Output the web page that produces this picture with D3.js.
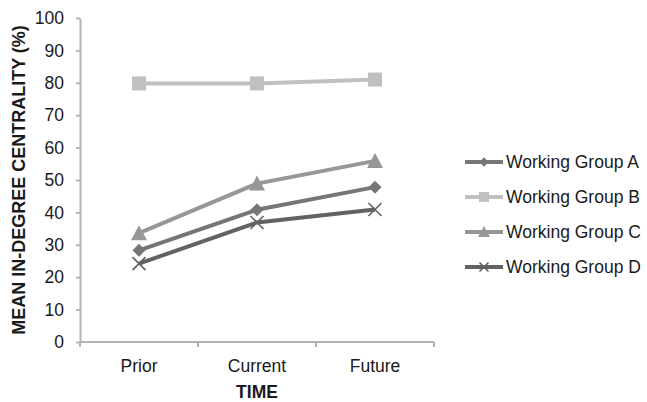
<!DOCTYPE html>
<html>
<head>
<meta charset="utf-8">
<script src="https://cdn.jsdelivr.net/npm/d3@7"></script>
<style>
  html, body { margin: 0; padding: 0; background: #fff; }
  text { font-family: "Liberation Sans", Arial, sans-serif; fill: #1a1a1a; }
</style>
</head>
<body>
<svg id="chart" width="647" height="402"></svg>
<script>
// Time periods on the x axis
const periods = ["Prior", "Current", "Future"];
// Mean in-degree centrality (%) per working group
const groupA = [28.3, 40.8, 47.8];
const groupB = [79.8, 79.8, 81.0];
const groupC = [33.6, 48.9, 55.9];
const groupD = [24.2, 36.9, 40.9];
const groupNames = ["Working Group A", "Working Group B", "Working Group C", "Working Group D"];
const yTicks = [0, 10, 20, 30, 40, 50, 60, 70, 80, 90, 100];

const series = [
  { name: groupNames[0], values: groupA, color: "#767676", marker: "diamond" },
  { name: groupNames[1], values: groupB, color: "#c0c0c0", marker: "square" },
  { name: groupNames[2], values: groupC, color: "#979797", marker: "triangle" },
  { name: groupNames[3], values: groupD, color: "#626262", marker: "cross" }
];

const svg = d3.select("#chart");
const plotLeft = 80, plotRight = 434, plotTop = 18, plotBottom = 342;
const fontSize = "17.5px";

const x = d3.scaleBand().domain(periods).range([plotLeft, plotRight]);
const y = d3.scaleLinear().domain([0, 100]).range([plotBottom, plotTop]);

// Axes
const axisColor = "#b3b3b3";
const yAxis = svg.append("g").attr("transform", `translate(${plotLeft},0)`)
  .call(d3.axisLeft(y).tickValues(yTicks).tickSize(4).tickPadding(12).tickSizeOuter(0));
const xAxis = svg.append("g").attr("transform", `translate(0,${plotBottom})`)
  .call(d3.axisBottom(x).tickSize(0).tickPadding(18));

[yAxis, xAxis].forEach(g => {
  g.select(".domain").attr("stroke", axisColor).attr("stroke-width", 2);
  g.selectAll(".tick line").attr("stroke", axisColor).attr("stroke-width", 2);
  g.selectAll(".tick text").style("font-family", "'Liberation Sans', Arial, sans-serif")
    .style("font-size", fontSize).attr("fill", "#1a1a1a");
});
xAxis.select(".domain").attr("d", `M${plotLeft},0H${plotRight}`);

// Category boundary ticks below the x axis
const bounds = periods.map(p => x(p)).concat([plotRight]);
svg.append("g").selectAll("line").data(bounds).join("line")
  .attr("x1", d => d).attr("x2", d => d)
  .attr("y1", plotBottom).attr("y2", plotBottom + 5)
  .attr("stroke", axisColor).attr("stroke-width", 2);

// Axis titles
svg.append("text")
  .attr("transform", `translate(25,180) rotate(-90)`)
  .attr("text-anchor", "middle")
  .style("font-size", "18px").style("font-weight", "bold")
  .text("MEAN IN-DEGREE CENTRALITY (%)");
svg.append("text")
  .attr("x", (plotLeft + plotRight) / 2).attr("y", 398)
  .attr("text-anchor", "middle")
  .style("font-size", "17.5px").style("font-weight", "bold")
  .text("TIME");

// Marker shapes
function drawMarker(g, type, color, size) {
  if (type === "diamond") {
    g.append("path").attr("d", d3.symbol(d3.symbolDiamond2, size * size * 0.55)())
      .attr("fill", color);
  } else if (type === "square") {
    g.append("rect").attr("x", -size / 2).attr("y", -size / 2)
      .attr("width", size).attr("height", size).attr("fill", color);
  } else if (type === "triangle") {
    const h = size;
    g.append("path").attr("d", `M0,${-h / 2 - 1}L${h / 2 + 1},${h / 2}L${-h / 2 - 1},${h / 2}Z`)
      .attr("fill", color);
  } else if (type === "cross") {
    const s = size / 2;
    g.append("path").attr("d", `M${-s},${-s}L${s},${s}M${-s},${s}L${s},${-s}`)
      .attr("stroke", color).attr("stroke-width", 1.6).attr("fill", "none");
  }
}

const line = d3.line().x((d, i) => x(periods[i]) + x.bandwidth() / 2).y(d => y(d));
const markerSize = { diamond: 14, square: 14, triangle: 14, cross: 13 };

series.forEach(s => {
  const g = svg.append("g");
  g.append("path").datum(s.values).attr("d", line)
    .attr("fill", "none").attr("stroke", s.color).attr("stroke-width", 4);
  s.values.forEach((v, i) => {
    const m = g.append("g").attr("transform", `translate(${x(periods[i]) + x.bandwidth() / 2},${y(v)})`);
    drawMarker(m, s.marker, s.color, markerSize[s.marker]);
  });
});

// Legend
const legend = svg.append("g");
series.forEach((s, i) => {
  const yy = 162 + i * 35;
  const row = legend.append("g").attr("transform", `translate(0,${yy})`);
  row.append("line").attr("x1", 465).attr("x2", 503).attr("y1", 0).attr("y2", 0)
    .attr("stroke", s.color).attr("stroke-width", 4);
  const m = row.append("g").attr("transform", "translate(484,0)");
  drawMarker(m, s.marker, s.color, s.marker === "cross" ? 9 : 10);
  row.append("text").attr("x", 506).attr("y", 6)
    .style("font-size", fontSize).text(s.name);
});
</script>
</body>
</html>
